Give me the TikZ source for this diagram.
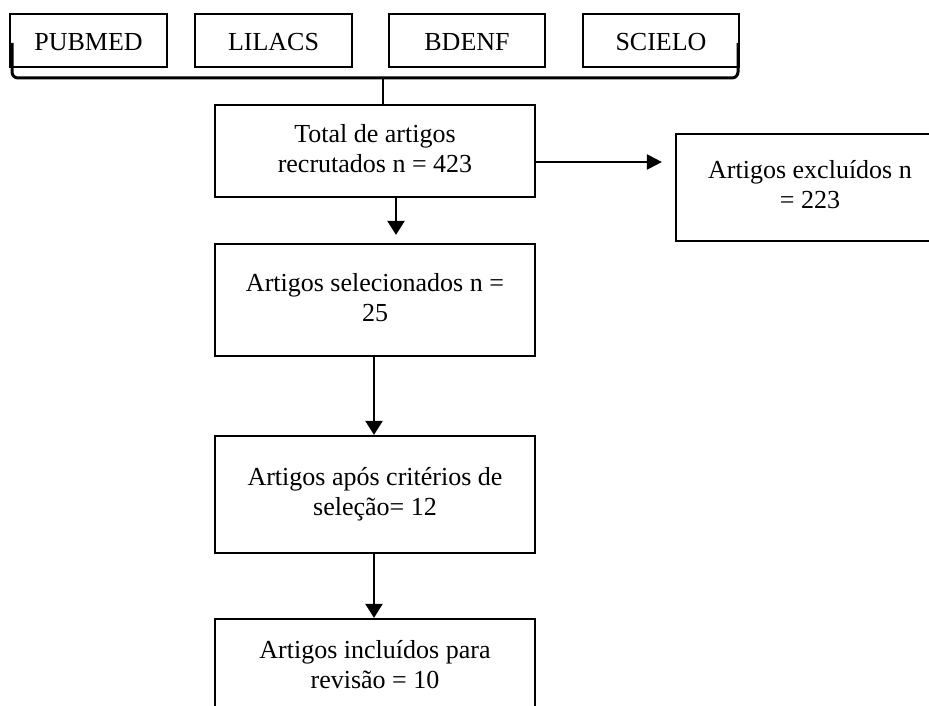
\documentclass[tikz,border=0pt]{standalone}
\usepackage{fontspec}
\setmainfont{Liberation Serif}
\usetikzlibrary{arrows.meta}
\begin{document}
\begin{tikzpicture}[x=1pt,y=-1pt,
  every node/.style={font=\fontsize{26}{30}\selectfont},
  box/.style={draw,line width=2.2pt,inner sep=0pt,align=center,minimum width=320pt},
  dbox/.style={draw,line width=2.2pt,inner sep=0pt,minimum height=53pt,text height=20.4pt,text depth=0pt},
  arr/.style={line width=2.2pt,-{Triangle[width=17pt,length=14pt]}},
  brk/.style={line width=3pt,rounded corners=6pt}]
\useasboundingbox (0,0) rectangle (929,706);
\node[dbox,minimum width=157pt] (pub) at (88.5,40.5) {PUBMED};
\node[dbox,minimum width=157pt] (lil) at (273.5,40.5) {LILACS};
\node[dbox,minimum width=156pt] (bde) at (467,40.5) {BDENF};
\node[dbox,minimum width=156pt] (sci) at (661,40.5) {SCIELO};
\coordinate (bl) at (12,43);
\coordinate (br) at (738,43);
\coordinate (bm) at (383,78);
\draw[brk] (bl) -- (bl |- bm) -- (br |- bm) -- (br);
\node[box,minimum height=92pt] (tot) at (375,151) {\strut Total de artigos\\\strut recrutados n = 423};
\draw[line width=2.8pt] (bm) -- (bm |- tot.north);
\node[draw,line width=2.2pt,inner sep=0pt,align=center,minimum width=268pt,minimum height=107pt] (exc) at (810,187.5) {\strut Artigos excluídos n\\\strut = 223};
\node[box,minimum height=112pt] (sel) at (375,300) {\strut Artigos selecionados n =\\\strut 25};
\node[box,minimum height=117pt] (cri) at (375,494.5) {\strut Artigos após critérios de\\\strut seleção= 12};
\node[box,minimum height=96pt] (inc) at (375,667) {\strut Artigos incluídos para\\\strut revisão = 10};
\draw[arr,shorten >=13pt,-{Triangle[width=15pt,length=15pt]}] ([yshift=-11pt]tot.east) -- ([yshift=-11pt]tot.east -| exc.west);
\draw[arr,shorten >=8pt] ([xshift=21pt]tot.south) -- ([xshift=21pt]sel.north);
\draw[arr] ([xshift=-1pt]sel.south) -- ([xshift=-1pt]cri.north);
\draw[arr] ([xshift=-1pt]cri.south) -- ([xshift=-1pt]inc.north);
\end{tikzpicture}
\end{document}
